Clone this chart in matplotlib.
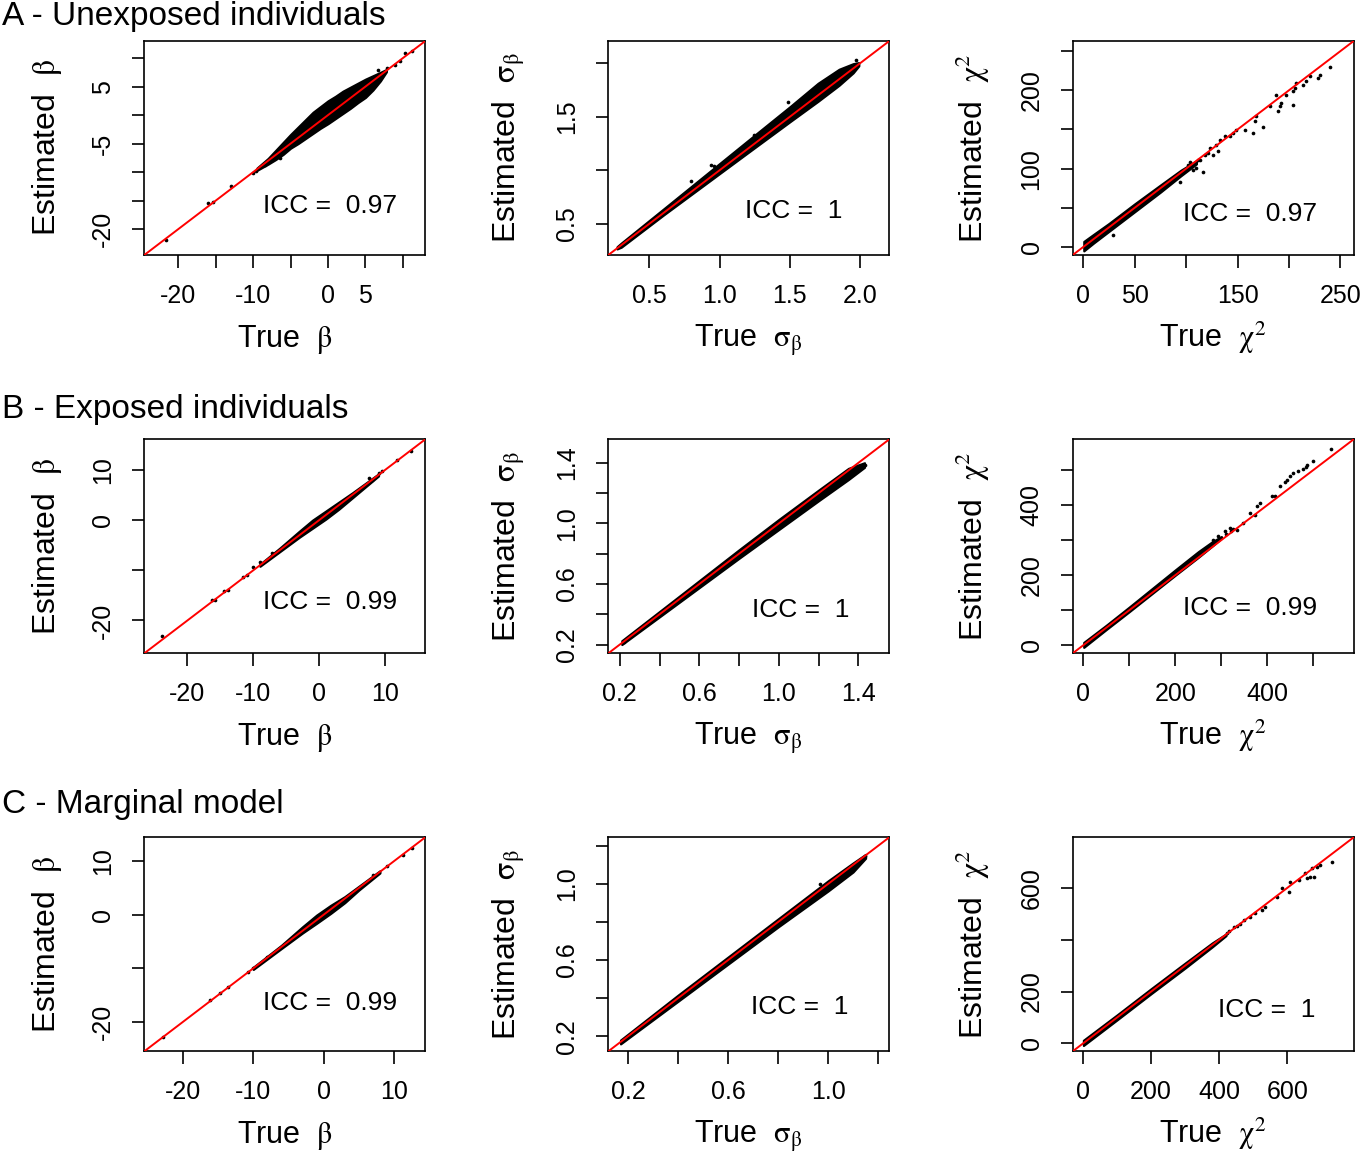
import matplotlib
matplotlib.use('Agg')
import matplotlib.pyplot as plt

# ---------------------------------------------------------------- data
row_titles = ['A - Unexposed individuals', 'B - Exposed individuals', 'C - Marginal model']
icc_values = [['0.97', '1', '0.97'],
              ['0.99', '1', '0.99'],
              ['0.99', '1', '1']]

# dense part of each cloud: x, lower and upper edge of the black band
a1_band_x = [-9.5, -8, -7, -6, -5, -4, -3, -2, -1, 0, 1, 2, 3, 4, 5, 6, 7, 7.8]
a1_band_lo = [-9.7, -8.6, -7.8, -6.9, -5.8, -5.0, -4.1, -3.2, -2.3, -1.5, -0.6, 0.3, 1.2, 2.2, 3.1, 4.4, 6.0, 7.6]
a1_band_hi = [-9.3, -7.6, -6.2, -4.8, -3.4, -2.1, -0.8, 0.5, 1.5, 2.5, 3.3, 4.2, 4.9, 5.6, 6.3, 6.9, 7.5, 8.0]
a1_pts_x = [-21.6, -16.0, -15.35, -13.0, -10.0, -9.64, -8.43, -7.3, -6.4, 6.74, 7.86, 8.97, 9.64, 10.3, 11.2]
a1_pts_y = [-22.0, -15.5, -15.2, -12.5, -10.1, -9.74, -8.68, -7.7, -7.5, 7.98, 8.28, 8.86, 9.44, 10.9, 11.2]

a2_band_x = [0.27, 0.3, 0.6, 0.9, 1.2, 1.5, 1.7, 1.85, 1.95, 1.99]
a2_band_lo = [0.265, 0.281, 0.581, 0.872, 1.163, 1.453, 1.644, 1.794, 1.910, 1.975]
a2_band_hi = [0.285, 0.319, 0.637, 0.956, 1.275, 1.593, 1.812, 1.943, 1.995, 2.005]
a2_pts_x = [0.796, 0.939, 0.963, 1.248, 1.485, 1.971]
a2_pts_y = [0.895, 1.05, 1.035, 1.330, 1.641, 2.03]

a3_band_x = [0.5, 10, 25, 50, 75, 95, 110]
a3_band_lo = [-5, 5, 20, 45, 70, 91, 106]
a3_band_hi = [7, 16, 30, 55, 79, 98, 110]
a3_pts_x = [239.7, 230.0, 228.3, 220.2, 216.9, 213.7, 207.2, 205.6, 197.5, 204.0, 187.7, 192.6, 191.0,
            189.4, 204.0, 181.3, 168.3, 166.7, 165.1, 174.8, 157.0, 148.8, 145.6, 142.4, 137.5, 132.7,
            129.4, 131.0, 126.1, 122.9, 113.2, 116.4, 109.9, 103.5, 93.8, 28.9,
            97.0, 101.9, 106.7, 111.6, 118.1, 121.3]
a3_pts_y = [229.3, 220.0, 215.7, 217.8, 211.4, 207.2, 209.3, 202.9, 194.4, 198.6, 194.4, 183.8, 179.4,
            173.0, 181.6, 179.4, 166.6, 160.2, 145.4, 153.8, 149.6, 149.6, 145.4, 141.1, 141.1, 136.8,
            130.4, 121.9, 117.6, 126.2, 111.3, 96.3, 100.6, 109.1, 83.5, 15.3,
            96.3, 104.8, 98.5, 111.3, 117.6, 119.8]

b1_band_x = [-9, -6, -3, -1, 1, 3, 5, 7, 9]
b1_band_lo = [-9.2, -6.3, -3.4, -1.6, 0.2, 2.2, 4.4, 6.6, 8.8]
b1_band_hi = [-8.8, -5.6, -2.2, 0.0, 1.8, 3.6, 5.4, 7.3, 9.2]
b1_pts_x = [-23.8, -16.3, -15.8, -14.5, -13.8, -11.5, -11.0, -10.0, -9.0, -7.2, -6.4, 7.5, 8.0, 9.0, 9.5, 11.8, 13.9]
b1_pts_y = [-23.2, -16.0, -15.9, -14.1, -13.9, -11.3, -10.9, -9.3, -8.3, -6.6, -6.3, 8.4, 8.0, 9.4, 9.7, 12.0, 13.7]

b2_band_x = [0.21, 0.5, 0.8, 1.0, 1.2, 1.35, 1.43]
b2_band_lo = [0.20, 0.48, 0.77, 0.96, 1.15, 1.29, 1.37]
b2_band_hi = [0.225, 0.52, 0.826, 1.026, 1.22, 1.363, 1.40]
b2_pts_x = [0.22, 1.433]
b2_pts_y = [0.215, 1.384]

b3_band_x = [1, 50, 100, 150, 200, 250, 280, 300]
b3_band_lo = [-6, 45, 96, 148, 200, 251, 283, 305]
b3_band_hi = [8, 57, 109, 162, 215, 267, 295, 310]
b3_pts_x = [537.8, 500.0, 485.7, 483.3, 478.4, 467.4, 456.5, 449.3, 442.0, 438.4, 427.6, 416.7, 409.5,
            384.1, 377.0, 373.4, 362.5, 347.8, 333.5, 318.9, 308.0, 293.5, 282.6, 310.0, 320.0, 326.0]
b3_pts_y = [560.0, 524.6, 515.1, 508.6, 502.9, 496.0, 491.4, 481.7, 472.3, 464.6, 453.1, 424.6, 424.6,
            405.7, 396.0, 372.3, 377.1, 348.6, 329.4, 334.3, 324.6, 310.3, 300.9, 318.0, 326.0, 331.0]

c1_band_x = [-10, -6, -3, -1, 1, 3, 5, 8]
c1_band_lo = [-10.2, -6.3, -3.4, -1.6, 0.25, 2.25, 4.6, 7.8]
c1_band_hi = [-9.8, -5.7, -2.25, -0.07, 1.75, 3.37, 5.3, 8.2]
c1_pts_x = [-22.8, -16.2, -14.8, -13.6, -10.7, -10.0, -8.1, 7.07, 8.97, 11.3, 12.5]
c1_pts_y = [-22.8, -15.9, -14.7, -13.5, -10.7, -10.0, -7.85, 7.42, 9.1, 11.2, 12.4]

c2_band_x = [0.17, 0.4, 0.6, 0.8, 1.0, 1.1, 1.15]
c2_band_lo = [0.16, 0.384, 0.579, 0.774, 0.963, 1.063, 1.135]
c2_band_hi = [0.18, 0.416, 0.616, 0.816, 1.016, 1.11, 1.155]
c2_pts_x = [0.967, 1.147]
c2_pts_y = [1.0, 1.145]

c3_band_x = [1, 100, 200, 300, 380, 420]
c3_band_lo = [-8, 91, 192, 291, 373, 416]
c3_band_hi = [12, 110, 211, 310, 388, 422]
c3_pts_x = [731.6, 697.2, 687.4, 672.7, 667.8, 677.6, 658.0, 653.1, 633.3, 608.8, 603.9, 584.3, 569.7,
            535.3, 525.5, 505.9, 491.2, 471.3, 441.9, 422.3, 430.0, 452.0, 460.0]
c3_pts_y = [701.2, 688.4, 679.5, 675.7, 643.2, 643.2, 637.1, 656.4, 630.5, 624.0, 585.3, 598.5, 563.7,
            527.4, 514.7, 501.9, 488.8, 476.1, 450.2, 424.7, 432.0, 452.0, 462.0]

# ticks and tick labels (R drops labels that would overlap)
a1_ticks = [-20, -15, -10, -5, 0, 5, 10]
a1_xlabels = ['-20', '', '-10', '', '0', '5', '']
a1_ylabels = ['-20', '', '', '-5', '', '5', '']
a2_ticks = [0.5, 1.0, 1.5, 2.0]
a2_xlabels = ['0.5', '1.0', '1.5', '2.0']
a2_ylabels = ['0.5', '', '1.5', '']
a3_ticks = [0, 50, 100, 150, 200, 250]
a3_xlabels = ['0', '50', '', '150', '', '250']
a3_ylabels = ['0', '', '100', '', '200', '']
b1_ticks = [-20, -10, 0, 10]
b1_xlabels = ['-20', '-10', '0', '10']
b1_ylabels = ['-20', '', '0', '10']
b2_ticks = [0.2, 0.4, 0.6, 0.8, 1.0, 1.2, 1.4]
b2_xlabels = ['0.2', '', '0.6', '', '1.0', '', '1.4']
b2_ylabels = ['0.2', '', '0.6', '', '1.0', '', '1.4']
b3_ticks = [0, 100, 200, 300, 400, 500]
b3_xlabels = ['0', '', '200', '', '400', '']
b3_ylabels = ['0', '', '200', '', '400', '']
c1_ticks = [-20, -10, 0, 10]
c1_xlabels = ['-20', '-10', '0', '10']
c1_ylabels = ['-20', '', '0', '10']
c2_ticks = [0.2, 0.4, 0.6, 0.8, 1.0, 1.2]
c2_xlabels = ['0.2', '', '0.6', '', '1.0', '']
c2_ylabels = ['0.2', '', '0.6', '', '1.0', '']
c3_ticks = [0, 200, 400, 600]
c3_xlabels = ['0', '200', '400', '600']
c3_ylabels = ['0', '200', '', '600']

# ---------------------------------------------------------------- style
plt.rcParams['font.family'] = 'Liberation Sans'
plt.rcParams['mathtext.fontset'] = 'stix'

FIG_W, FIG_H = 1362, 1152
col_left = [144.3, 608.3, 1072.7]
row_top = [41, 439.3, 837.3]
box_w, box_h = 281, 214

x_names = [r'True  $\mathrm{\beta}$', r'True  $\mathrm{\sigma_{\beta}}$', r'True  $\mathrm{\chi^{2}}$']
y_names = [r'Estimated  $\mathrm{\beta}$', r'Estimated  $\mathrm{\sigma_{\beta}}$', r'Estimated  $\mathrm{\chi^{2}}$']
ylab_x = [-0.318, -0.332, -0.320]
title_base = [25, 418.3, 813.3]

panels = [
    [dict(bx=a1_band_x, lo=a1_band_lo, hi=a1_band_hi, px=a1_pts_x, py=a1_pts_y, lim=(-24.55, 13.0),
          ticks=a1_ticks, xl=a1_xlabels, yl=a1_ylabels, icc=(0.900, 0.195)),
     dict(bx=a2_band_x, lo=a2_band_lo, hi=a2_band_hi, px=a2_pts_x, py=a2_pts_y, lim=(0.208, 2.207),
          ticks=a2_ticks, xl=a2_xlabels, yl=a2_ylabels, icc=(0.834, 0.171)),
     dict(bx=a3_band_x, lo=a3_band_lo, hi=a3_band_hi, px=a3_pts_x, py=a3_pts_y, lim=(-10.3, 263.0),
          ticks=a3_ticks, xl=a3_xlabels, yl=a3_ylabels, icc=(0.871, 0.160))],
    [dict(bx=b1_band_x, lo=b1_band_lo, hi=b1_band_hi, px=b1_pts_x, py=b1_pts_y, lim=(-26.55, 16.1),
          ticks=b1_ticks, xl=b1_xlabels, yl=b1_ylabels, icc=(0.900, 0.207)),
     dict(bx=b2_band_x, lo=b2_band_lo, hi=b2_band_hi, px=b2_pts_x, py=b2_pts_y, lim=(0.142, 1.555),
          ticks=b2_ticks, xl=b2_xlabels, yl=b2_ylabels, icc=(0.857, 0.171)),
     dict(bx=b3_band_x, lo=b3_band_lo, hi=b3_band_hi, px=b3_pts_x, py=b3_pts_y, lim=(-23.0, 587.5),
          ticks=b3_ticks, xl=b3_xlabels, yl=b3_ylabels, icc=(0.871, 0.179))],
    [dict(bx=c1_band_x, lo=c1_band_lo, hi=c1_band_hi, px=c1_pts_x, py=c1_pts_y, lim=(-25.5, 14.45),
          ticks=c1_ticks, xl=c1_xlabels, yl=c1_ylabels, icc=(0.900, 0.195)),
     dict(bx=c2_band_x, lo=c2_band_lo, hi=c2_band_hi, px=c2_pts_x, py=c2_pts_y, lim=(0.121, 1.245),
          ticks=c2_ticks, xl=c2_xlabels, yl=c2_ylabels, icc=(0.855, 0.176)),
     dict(bx=c3_band_x, lo=c3_band_lo, hi=c3_band_hi, px=c3_pts_x, py=c3_pts_y, lim=(-30.5, 795.0),
          ticks=c3_ticks, xl=c3_xlabels, yl=c3_ylabels, icc=(0.864, 0.160))],
]

fig = plt.figure(figsize=(FIG_W / 100, FIG_H / 100), dpi=100)

for r in range(3):
    fig.text(1.5 / FIG_W, 1 - title_base[r] / FIG_H, row_titles[r], fontsize=24, va='baseline', ha='left')
    for c in range(3):
        p = panels[r][c]
        ax = fig.add_axes([col_left[c] / FIG_W, 1 - (row_top[r] + box_h) / FIG_H, box_w / FIG_W, box_h / FIG_H])

        ax.fill_between(p['bx'], p['lo'], p['hi'], color='black', lw=1.6, joinstyle='round')
        ax.scatter(p['px'], p['py'], s=7, color='black', lw=0)
        ax.axline((0, 0), slope=1, color='red', lw=1.4, zorder=3)

        ax.set_xlim(*p['lim'])
        ax.set_ylim(*p['lim'])
        ax.set_xticks(p['ticks'])
        ax.set_xticklabels(p['xl'])
        ax.set_yticks(p['ticks'])
        ax.set_yticklabels(p['yl'], rotation=90, va='center')
        ax.tick_params(direction='out', length=9, width=1.2, pad=12, labelsize=18)
        for s in ax.spines.values():
            s.set_linewidth(1.2)

        ax.set_xlabel(x_names[c], fontsize=22)
        ax.xaxis.set_label_coords(0.5, -0.428)
        ax.xaxis.label.set_va('baseline')
        ax.set_ylabel(y_names[c], fontsize=23)
        ax.yaxis.set_label_coords(ylab_x[c], 0.5)
        ax.yaxis.label.set_va('baseline')

        ax.text(p['icc'][0], p['icc'][1], 'ICC =  ' + icc_values[r][c], transform=ax.transAxes,
                ha='right', va='baseline', fontsize=19)

fig.savefig('out.png', dpi=100)
